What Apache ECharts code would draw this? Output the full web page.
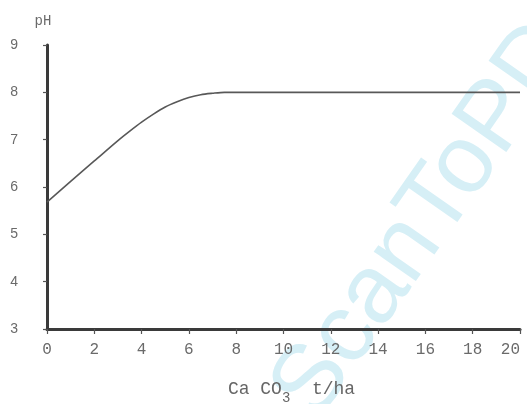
<!DOCTYPE html>
<html>
<head>
<meta charset="utf-8">
<script src="https://cdn.jsdelivr.net/npm/echarts@6/dist/echarts.min.js"></script>
<style>
  html, body { margin: 0; padding: 0; background: #ffffff; }
  #chart { width: 527px; height: 404px; }
</style>
</head>
<body>
<div id="chart"></div>
<script>
// CaCO3 application rate (t/ha) and resulting soil pH
const doseValues = [0, 1, 2, 3, 3.5, 4, 4.5, 5, 5.5, 6, 6.5, 7, 7.5, 8, 10, 12, 14, 16, 18, 20];
const phValues   = [5.68, 6.12, 6.55, 6.98, 7.18, 7.37, 7.54, 7.69, 7.8, 7.89, 7.95, 7.98, 8.0, 8.0, 8.0, 8.0, 8.0, 8.0, 8.0, 8.0];
const xTicks = { min: 0, max: 20, step: 2 };
const yTicks = { min: 3, max: 9, step: 1 };

const points = doseValues.map((d, i) => [d, phValues[i]]);

const chart = echarts.init(document.getElementById('chart'), null, { renderer: 'canvas' });

chart.setOption({
  backgroundColor: '#ffffff',
  animation: false,
  grid: { left: 47, right: 7, top: 45, bottom: 75, containLabel: false, outerBoundsMode: 'none' },
  graphic: [{
    type: 'text',
    z: -10,
    silent: true,
    x: 334,
    y: 436,
    rotation: 55 * Math.PI / 180,
    style: {
      text: 'ScanToPDF',
      font: '97px "Liberation Sans", Arial, sans-serif',
      fill: '#d6eff6',
      align: 'left',
      verticalAlign: 'bottom'
    }
  }],
  xAxis: {
    type: 'value',
    min: xTicks.min,
    max: xTicks.max,
    interval: xTicks.step,
    name: '{t|Ca CO}{s|3}{t|  t/ha}',
    nameLocation: 'middle',
    nameGap: 51,
    nameTextStyle: {
      padding: [0, 0, 0, 16],
      rich: {
        t: { fontFamily: '"Liberation Mono", "DejaVu Sans Mono", monospace', fontSize: 18, color: '#666', verticalAlign: 'top' },
        s: { fontFamily: '"Liberation Mono", "DejaVu Sans Mono", monospace', fontSize: 14, color: '#666', padding: [11, 0, 0, 0], verticalAlign: 'top' }
      }
    },
    axisLine: { show: true, onZero: false, lineStyle: { color: '#3a3a3a', width: 3 } },
    axisTick: { show: true, inside: false, length: 5, lineStyle: { color: '#555', width: 1.2 } },
    axisLabel: {
      margin: 13,
      fontFamily: '"Liberation Mono", "DejaVu Sans Mono", monospace',
      fontSize: 16,
      color: '#6a6a6a',
      alignMaxLabel: 'right'
    },
    splitLine: { show: false }
  },
  yAxis: {
    type: 'value',
    min: yTicks.min,
    max: yTicks.max,
    interval: yTicks.step,
    name: 'pH',
    nameLocation: 'end',
    nameGap: 17,
    nameTextStyle: {
      fontFamily: '"Liberation Mono", "DejaVu Sans Mono", monospace',
      fontSize: 14,
      color: '#6a6a6a',
      padding: [0, 8, 0, 0]
    },
    axisLine: { show: true, onZero: false, lineStyle: { color: '#3a3a3a', width: 3 } },
    axisTick: { show: true, inside: false, length: 4, lineStyle: { color: '#555', width: 1.2 } },
    axisLabel: {
      margin: 29,
      fontFamily: '"Liberation Sans", Arial, sans-serif',
      fontSize: 14,
      color: '#6a6a6a'
    },
    splitLine: { show: false }
  },
  series: [{
    type: 'line',
    data: points,
    smooth: 0.3,
    showSymbol: false,
    clip: false,
    lineStyle: { color: '#585858', width: 1.6 }
  }]
});
</script>
</body>
</html>
